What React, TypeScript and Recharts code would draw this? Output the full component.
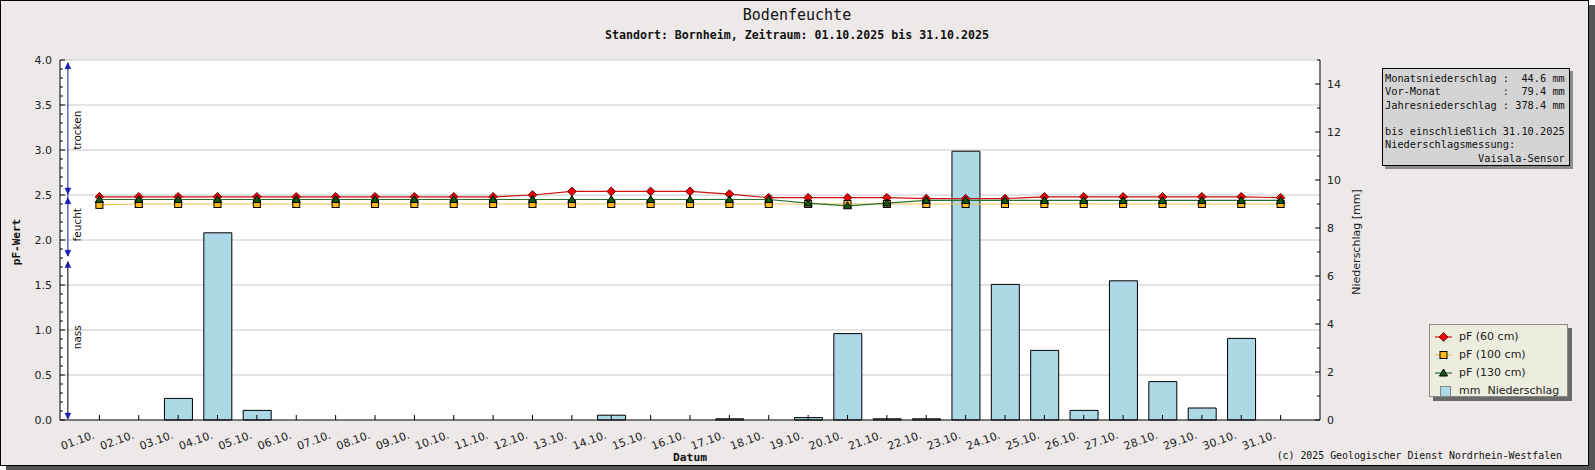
import React from 'react';
import {
  ComposedChart,
  Bar,
  Line,
  XAxis,
  YAxis,
  CartesianGrid,
  ReferenceLine,
  ReferenceDot,
} from 'recharts';

// Tagesdaten Oktober 2025
const days = [
  '01.10.', '02.10.', '03.10.', '04.10.', '05.10.', '06.10.', '07.10.', '08.10.',
  '09.10.', '10.10.', '11.10.', '12.10.', '13.10.', '14.10.', '15.10.', '16.10.',
  '17.10.', '18.10.', '19.10.', '20.10.', '21.10.', '22.10.', '23.10.', '24.10.',
  '25.10.', '26.10.', '27.10.', '28.10.', '29.10.', '30.10.', '31.10.',
];

const pf60 = [
  2.48, 2.48, 2.48, 2.48, 2.48, 2.48, 2.48, 2.48, 2.48, 2.48, 2.48,
  2.5, 2.54, 2.54, 2.54, 2.54, 2.51, 2.47, 2.47, 2.47, 2.47,
  2.46, 2.46, 2.46, 2.48, 2.48, 2.48, 2.48, 2.48, 2.48, 2.47,
];

const pf100 = [
  2.39, 2.4, 2.4, 2.4, 2.4, 2.4, 2.4, 2.4, 2.4, 2.4, 2.4,
  2.4, 2.4, 2.4, 2.4, 2.4, 2.4, 2.4, 2.4, 2.4, 2.4,
  2.4, 2.4, 2.4, 2.4, 2.4, 2.4, 2.4, 2.4, 2.4, 2.4,
];

const pf130 = [
  2.45, 2.45, 2.45, 2.45, 2.45, 2.45, 2.45, 2.45, 2.45, 2.45, 2.45,
  2.45, 2.45, 2.45, 2.45, 2.45, 2.45, 2.45, 2.41, 2.38, 2.41,
  2.44, 2.44, 2.44, 2.44, 2.44, 2.44, 2.44, 2.44, 2.44, 2.44,
];

// Niederschlag in mm
const rain = [
  0, 0, 0.9, 7.8, 0.4, 0, 0, 0, 0, 0, 0,
  0, 0, 0.2, 0, 0, 0.05, 0, 0.1, 3.6, 0.05,
  0.05, 11.2, 5.65, 2.9, 0.4, 5.8, 1.6, 0.5, 3.4, 0,
];

const xTicks = days.map((_, i) => i + 1);
const leftTicks = Array.from({ length: 41 }, (_, i) => i / 10);
const leftGrid = [0.5, 1, 1.5, 2, 2.5, 3, 3.5, 4];
const rightTicks = Array.from({ length: 16 }, (_, i) => i);

// Bereichsmarkierung links (pF-Bereiche)
const zones = [
  { label: 'trocken', y: 3.22 },
  { label: 'feucht', y: 2.17 },
  { label: 'nass', y: 0.92 },
];
const arrows = [
  { y: 3.97, dir: 'up' },
  { y: 2.51, dir: 'down' },
  { y: 2.47, dir: 'up' },
  { y: 1.82, dir: 'down' },
  { y: 1.76, dir: 'up' },
  { y: 0.01, dir: 'down' },
];

const infoLines = [
  'Monatsniederschlag :  44.6 mm',
  'Vor-Monat          :  79.4 mm',
  'Jahresniederschlag : 378.4 mm',
  '',
  'bis einschließlich 31.10.2025',
  'Niederschlagsmessung:',
  '               Vaisala-Sensor',
];

const data = days.map((day, i) => ({
  x: i + 1,
  day,
  pf60: pf60[i],
  pf100: pf100[i],
  pf130: pf130[i],
  rain: rain[i],
}));

const BG = '#ece9e8';
const SANS = 'DejaVu Sans, sans-serif';
const MONO = 'DejaVu Sans Mono, monospace';
const MARK_X = 0.2;

const Diamond = ({ cx, cy }: any) => (
  <path d={`M${cx},${cy - 4.3}L${cx + 4.3},${cy}L${cx},${cy + 4.3}L${cx - 4.3},${cy}Z`} fill="#ee0000" stroke="#6a0000" strokeWidth={1} />
);
const Square = ({ cx, cy }: any) => (
  <rect x={cx - 3.5} y={cy - 3.5} width={7} height={7} fill="#ffb820" stroke="#000" strokeWidth={1} />
);
const Triangle = ({ cx, cy }: any) => (
  <path d={`M${cx},${cy - 4}L${cx + 4},${cy + 3}L${cx - 4},${cy + 3}Z`} fill="#0b5e0b" stroke="#000" strokeWidth={1} />
);

const XTick = ({ x, y, payload }: any) => {
  const tx = x - 4;
  const ty = y + 18;
  return (
    <g>
      <line x1={x} y1={y} x2={x} y2={y - 5} stroke="#000" />
      <text x={tx} y={ty} textAnchor="end" transform={`rotate(-20 ${tx} ${ty})`} fontFamily={SANS} fontSize={11} fill="#222">
        {days[payload.value - 1]}
      </text>
    </g>
  );
};

const LeftTick = ({ x, y, payload }: any) => {
  const v = payload.value;
  const major = Math.abs(v * 2 - Math.round(v * 2)) < 1e-6;
  return (
    <g>
      <line x1={x} y1={y} x2={x + (major ? 5 : 3)} y2={y} stroke="#000" />
      {major && (
        <text x={x - 8} y={y + 4} textAnchor="end" fontFamily={SANS} fontSize={11} fill="#222">
          {v.toFixed(1)}
        </text>
      )}
    </g>
  );
};

const RightTick = ({ x, y, payload }: any) => {
  const v = payload.value;
  const major = v % 2 === 0;
  return (
    <g>
      <line x1={x} y1={y} x2={x - (major ? 5 : 3)} y2={y} stroke="#000" />
      {major && (
        <text x={x + 7} y={y + 4} textAnchor="start" fontFamily={SANS} fontSize={11} fill="#222">
          {v}
        </text>
      )}
    </g>
  );
};

const Arrow = ({ cx, cy, dir }: any) => {
  const d = dir === 'up'
    ? `M${cx},${cy}L${cx + 3},${cy + 6}L${cx - 3},${cy + 6}Z`
    : `M${cx},${cy}L${cx + 3},${cy - 6}L${cx - 3},${cy - 6}Z`;
  return <path d={d} fill="#1a1aa8" stroke="#1a1aa8" strokeWidth={0.5} />;
};

const ZoneLabel = ({ cx, cy, label }: any) => (
  <text x={cx} y={cy} textAnchor="middle" transform={`rotate(-90 ${cx} ${cy})`} dy={4} fontFamily={SANS} fontSize={10.5} fill="#111">
    {label}
  </text>
);

const legendItems = [
  { label: 'pF (60 cm)', color: '#cc1111', mark: 'diamond' },
  { label: 'pF (100 cm)', color: '#f2c450', mark: 'square' },
  { label: 'pF (130 cm)', color: '#2a6e2a', mark: 'triangle' },
  { label: 'mm  Niederschlag', color: '#add8e6', mark: 'bar' },
];

function LegendBox() {
  return (
    <div
      style={{
        position: 'absolute',
        left: 1429,
        top: 324,
        width: 139,
        height: 73,
        boxSizing: 'border-box',
        background: '#ededdf',
        border: '1px solid #8a8a8a',
        boxShadow: '4px 4px 0 #6a6a6a',
      }}
    >
      {legendItems.map((it, i) => (
        <div key={it.label} style={{ position: 'absolute', left: 0, top: 3 + i * 18, height: 18, width: 137 }}>
          <svg width={26} height={18} style={{ position: 'absolute', left: 3, top: 0 }}>
            {it.mark === 'bar' ? (
              <rect x={7.5} y={4.5} width={10} height={10} fill="#add8e6" stroke="#888" />
            ) : (
              <>
                <line x1={2} y1={9} x2={19} y2={9} stroke={it.color} strokeWidth={1.2} />
                {it.mark === 'diamond' && <Diamond cx={10.5} cy={9} />}
                {it.mark === 'square' && <Square cx={10.5} cy={9} />}
                {it.mark === 'triangle' && <Triangle cx={10.5} cy={9} />}
              </>
            )}
          </svg>
          <span style={{ position: 'absolute', left: 29, top: 2, fontFamily: SANS, fontSize: 11, color: '#222', whiteSpace: 'pre' }}>
            {it.label}
          </span>
        </div>
      ))}
    </div>
  );
}

function InfoBox() {
  return (
    <div
      style={{
        position: 'absolute',
        left: 1382,
        top: 68,
        width: 188,
        height: 98,
        boxSizing: 'border-box',
        background: '#d4d4d4',
        border: '1px solid #000',
        boxShadow: '3px 3px 0 #8c8c8c',
        padding: '3px 0 0 2px',
        fontFamily: MONO,
        fontSize: 10.3,
        lineHeight: '13.3px',
        color: '#111',
        whiteSpace: 'pre',
      }}
    >
      {infoLines.map((l, i) => (
        <div key={i} style={{ height: 13.3 }}>{l}</div>
      ))}
    </div>
  );
}

export default function App() {
  return (
    <div style={{ position: 'relative', width: 1595, height: 470 }}>
      <style>{'body{margin:0}'}</style>
      <div
        style={{
          position: 'absolute',
          left: 0,
          top: 0,
          width: 1589,
          height: 466,
          boxSizing: 'border-box',
          background: BG,
          border: '1px solid #000',
          boxShadow: '6px 5px 0 #555',
        }}
      />
      <div style={{ position: 'absolute', left: 0, top: 0 }}>
        <ComposedChart width={1595} height={470} data={data} margin={{ top: 60, left: 59, right: 274, bottom: 49 }}>
          <CartesianGrid
            yAxisId="left"
            vertical={false}
            horizontalValues={leftGrid}
            stroke="#c8c8c8"
            fill="#ffffff"
            fillOpacity={1}
          />
          <XAxis
            dataKey="x"
            type="number"
            domain={[0, 32]}
            ticks={xTicks}
            interval={0}
            height={1}
            tickSize={0}
            tickMargin={0}
            tickLine={false}
            axisLine={{ stroke: '#000' }}
            tick={(p: any) => <XTick {...p} />}
          />
          <YAxis
            yAxisId="left"
            orientation="left"
            domain={[0, 4]}
            ticks={leftTicks}
            interval={0}
            width={1}
            tickSize={0}
            tickMargin={0}
            tickLine={false}
            axisLine={{ stroke: '#000' }}
            tick={(p: any) => <LeftTick {...p} />}
          />
          <YAxis
            yAxisId="right"
            orientation="right"
            domain={[0, 15]}
            ticks={rightTicks}
            interval={0}
            width={1}
            tickSize={0}
            tickMargin={0}
            tickLine={false}
            axisLine={{ stroke: '#000' }}
            tick={(p: any) => <RightTick {...p} />}
          />
          <Bar yAxisId="right" dataKey="rain" barSize={28} fill="#add8e6" stroke="#000" strokeWidth={1} isAnimationActive={false} />
          <ReferenceLine
            yAxisId="left"
            segment={[{ x: MARK_X, y: 3.97 }, { x: MARK_X, y: 1.82 }]}
            stroke="#1a1aa8"
            strokeWidth={1}
          />
          <ReferenceLine
            yAxisId="left"
            segment={[{ x: MARK_X, y: 1.76 }, { x: MARK_X, y: 0.01 }]}
            stroke="#000"
            strokeWidth={1}
          />
          {arrows.map((a, i) => (
            <ReferenceDot
              key={`a${i}`}
              yAxisId="left"
              x={MARK_X}
              y={a.y}
              r={3}
              shape={(p: any) => <Arrow cx={p.cx} cy={p.cy} dir={a.dir} />}
            />
          ))}
          {zones.map((z) => (
            <ReferenceDot
              key={z.label}
              yAxisId="left"
              x={0.43}
              y={z.y}
              r={3}
              shape={(p: any) => <ZoneLabel cx={p.cx} cy={p.cy} label={z.label} />}
            />
          ))}
          <Line
            yAxisId="left"
            dataKey="pf60"
            stroke="#cc1111"
            strokeWidth={1.2}
            dot={(p: any) => <Diamond key={`r${p.index}`} cx={p.cx} cy={p.cy} />}
            activeDot={false}
            isAnimationActive={false}
          />
          <Line
            yAxisId="left"
            dataKey="pf100"
            stroke="#f2c450"
            strokeWidth={1.2}
            dot={(p: any) => <Square key={`y${p.index}`} cx={p.cx} cy={p.cy} />}
            activeDot={false}
            isAnimationActive={false}
          />
          <Line
            yAxisId="left"
            dataKey="pf130"
            stroke="#2a6e2a"
            strokeWidth={1.2}
            dot={(p: any) => <Triangle key={`g${p.index}`} cx={p.cx} cy={p.cy} />}
            activeDot={false}
            isAnimationActive={false}
          />
        </ComposedChart>
      </div>
      <svg width={1595} height={470} style={{ position: 'absolute', left: 0, top: 0, pointerEvents: 'none' }}>
        <text x={797} y={20} textAnchor="middle" fontFamily={MONO} fontSize={15} fill="#111">Bodenfeuchte</text>
        <text x={797} y={39} textAnchor="middle" fontFamily={MONO} fontWeight="bold" fontSize={11.6} fill="#111">
          Standort: Bornheim, Zeitraum: 01.10.2025 bis 31.10.2025
        </text>
        <text x={690} y={461} textAnchor="middle" fontFamily={MONO} fontWeight="bold" fontSize={11.3} fill="#111">Datum</text>
        <text transform="translate(19.5 242) rotate(-90)" textAnchor="middle" fontFamily={MONO} fontWeight="bold" fontSize={11} fill="#111">
          pF-Wert
        </text>
        <text transform="translate(1360 242) rotate(-90)" textAnchor="middle" fontFamily={SANS} fontSize={11} fill="#222">
          Niederschlag [mm]
        </text>
        <text x={1562} y={459} textAnchor="end" fontFamily={MONO} fontSize={9.9} fill="#111">
          (c) 2025 Geologischer Dienst Nordrhein-Westfalen
        </text>
      </svg>
      <InfoBox />
      <LegendBox />
    </div>
  );
}
